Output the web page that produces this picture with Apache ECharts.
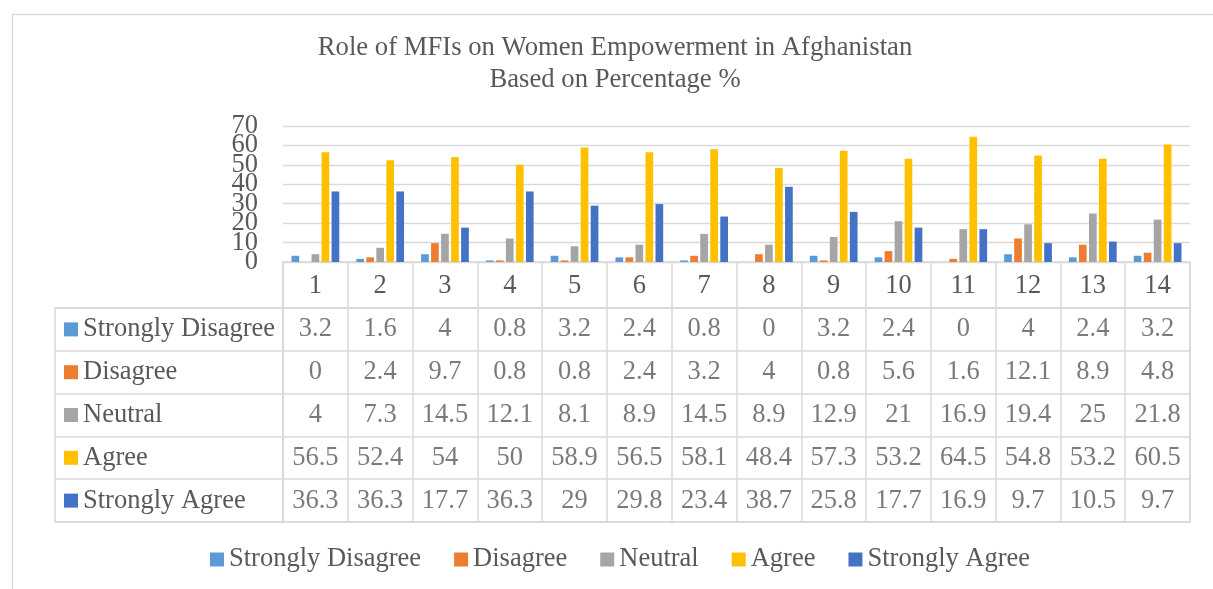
<!DOCTYPE html>
<html>
<head>
<meta charset="utf-8">
<script src="https://cdn.jsdelivr.net/npm/echarts@6/dist/echarts.min.js"></script>
<style>
html,body{margin:0;padding:0;background:#fff;}
#chart{width:1213px;height:589px;}
</style>
</head>
<body>
<div id="chart"></div>
<script>
const categories = ['1','2','3','4','5','6','7','8','9','10','11','12','13','14'];
const seriesNames = ['Strongly Disagree','Disagree','Neutral','Agree','Strongly Agree'];
const stronglyDisagree = [3.2,1.6,4,0.8,3.2,2.4,0.8,0,3.2,2.4,0,4,2.4,3.2];
const disagree = [0,2.4,9.7,0.8,0.8,2.4,3.2,4,0.8,5.6,1.6,12.1,8.9,4.8];
const neutral = [4,7.3,14.5,12.1,8.1,8.9,14.5,8.9,12.9,21,16.9,19.4,25,21.8];
const agree = [56.5,52.4,54,50,58.9,56.5,58.1,48.4,57.3,53.2,64.5,54.8,53.2,60.5];
const stronglyAgree = [36.3,36.3,17.7,36.3,29,29.8,23.4,38.7,25.8,17.7,16.9,9.7,10.5,9.7];
const yMin = 0, yMax = 70, yStep = 10;
const titleText = 'Role of MFIs on Women Empowerment in Afghanistan\nBased on Percentage %';

const allValues = [stronglyDisagree, disagree, neutral, agree, stronglyAgree];
const colors = ['#5B9BD5','#ED7D31','#A5A5A5','#FFC000','#4472C4'];
const FONT = 'Liberation Serif, Times New Roman, serif';
const TXT = '#595959';
const LINE = '#D9D9D9';
const FS = 26.5;

const chart = echarts.init(document.getElementById('chart'));

const tableData = [];
allValues.forEach((arr, r) => arr.forEach((v, c) => tableData.push([c, r, v])));

const rich = { t: { fontSize: FS, fontFamily: FONT, color: TXT, padding: [0,0,0,5] } };
colors.forEach((c, i) => { rich['s' + i] = { width: 14, height: 14, backgroundColor: c }; });

const barSeries = seriesNames.map((name, i) => ({
  name, type: 'bar', xAxisIndex: 0, yAxisIndex: 0,
  data: allValues[i], barWidth: 7.7, barGap: '30%',
  itemStyle: { color: colors[i] }
}));

const tableAxisLine = { show: true, interval: 0, lineStyle: { color: LINE, width: 1.5 } };

// the value labels overlap in the reference, so alternate them over two
// coincident axes to stop ECharts from hiding any of them
const yLabelStyle = (parity) => ({
  margin: 25, fontSize: FS, fontFamily: FONT, color: TXT,
  showMinLabel: true, showMaxLabel: true,
  formatter: v => (Math.round(v / yStep) % 2 === parity ? String(v) : '')
});

chart.setOption({
  animation: false,
  textStyle: { fontFamily: FONT },
  title: {
    text: titleText, left: 615, top: 32, textAlign: 'center', padding: 0,
    textStyle: { fontFamily: FONT, fontSize: 26.7, fontWeight: 'normal', color: TXT, lineHeight: 32 }
  },
  legend: {
    data: seriesNames, left: 210, top: 546, itemWidth: 14, itemHeight: 14, itemGap: 33,
    icon: 'rect', padding: 0,
    textStyle: { fontFamily: FONT, fontSize: FS, color: TXT }
  },
  graphic: [{
    type: 'rect', left: 10, top: 12, shape: { width: 1400, height: 800 },
    style: { fill: 'none', stroke: LINE, lineWidth: 1.3 }, silent: true, z: -1
  }],
  grid: [
    { left: 283, top: 126, width: 907, height: 136 },
    { left: 283, top: 262, width: 907, height: 46, show: true, borderColor: LINE, borderWidth: 1.5 },
    { left: 283, top: 308, width: 907, height: 214, show: true, borderColor: LINE, borderWidth: 1.5 },
    { left: 55, top: 308, width: 228, height: 214, show: true, borderColor: LINE, borderWidth: 1.5 }
  ],
  xAxis: [
    { gridIndex: 0, type: 'category', data: categories, axisLine: { show: false }, axisTick: { show: false },
      axisLabel: { interval: 0, margin: 11, fontSize: FS, fontFamily: FONT, color: TXT } },
    { gridIndex: 1, type: 'category', data: categories, axisLine: { show: false }, axisTick: { show: false },
      axisLabel: { show: false, interval: 0 }, splitLine: tableAxisLine },
    { gridIndex: 2, type: 'category', data: categories, axisLine: { show: false }, axisTick: { show: false },
      axisLabel: { show: false, interval: 0 }, splitLine: tableAxisLine },
    { gridIndex: 3, type: 'value', min: 0, max: 1, show: false }
  ],
  yAxis: [
    { gridIndex: 0, type: 'value', min: yMin, max: yMax, interval: yStep,
      axisLine: { show: false }, axisTick: { show: false },
      axisLabel: yLabelStyle(0),
      splitLine: { lineStyle: { color: LINE, width: 1.3 } } },
    { gridIndex: 1, type: 'value', show: false },
    { gridIndex: 2, type: 'category', data: seriesNames, inverse: true,
      axisLine: { show: false }, axisTick: { show: false }, axisLabel: { show: false, interval: 0 },
      splitLine: tableAxisLine },
    { gridIndex: 3, type: 'category', data: seriesNames, inverse: true,
      axisLine: { show: false }, axisTick: { show: false },
      axisLabel: { inside: true, margin: 9, interval: 0, align: 'left',
        formatter: (v, idx) => '{s' + idx + '|}{t|' + v + '}', rich },
      splitLine: tableAxisLine },
    { gridIndex: 0, type: 'value', min: yMin, max: yMax, interval: yStep, position: 'left',
      axisLine: { show: false }, axisTick: { show: false }, splitLine: { show: false },
      axisLabel: yLabelStyle(1) }
  ],
  series: barSeries.concat([{
    name: 'table', type: 'scatter', xAxisIndex: 2, yAxisIndex: 2,
    data: tableData, symbolSize: 1, itemStyle: { color: 'rgba(0,0,0,0)' },
    label: { show: true, position: 'inside', formatter: p => String(p.value[2]),
      fontSize: FS, fontFamily: FONT, color: TXT },
    silent: true
  }])
});
</script>
</body>
</html>
